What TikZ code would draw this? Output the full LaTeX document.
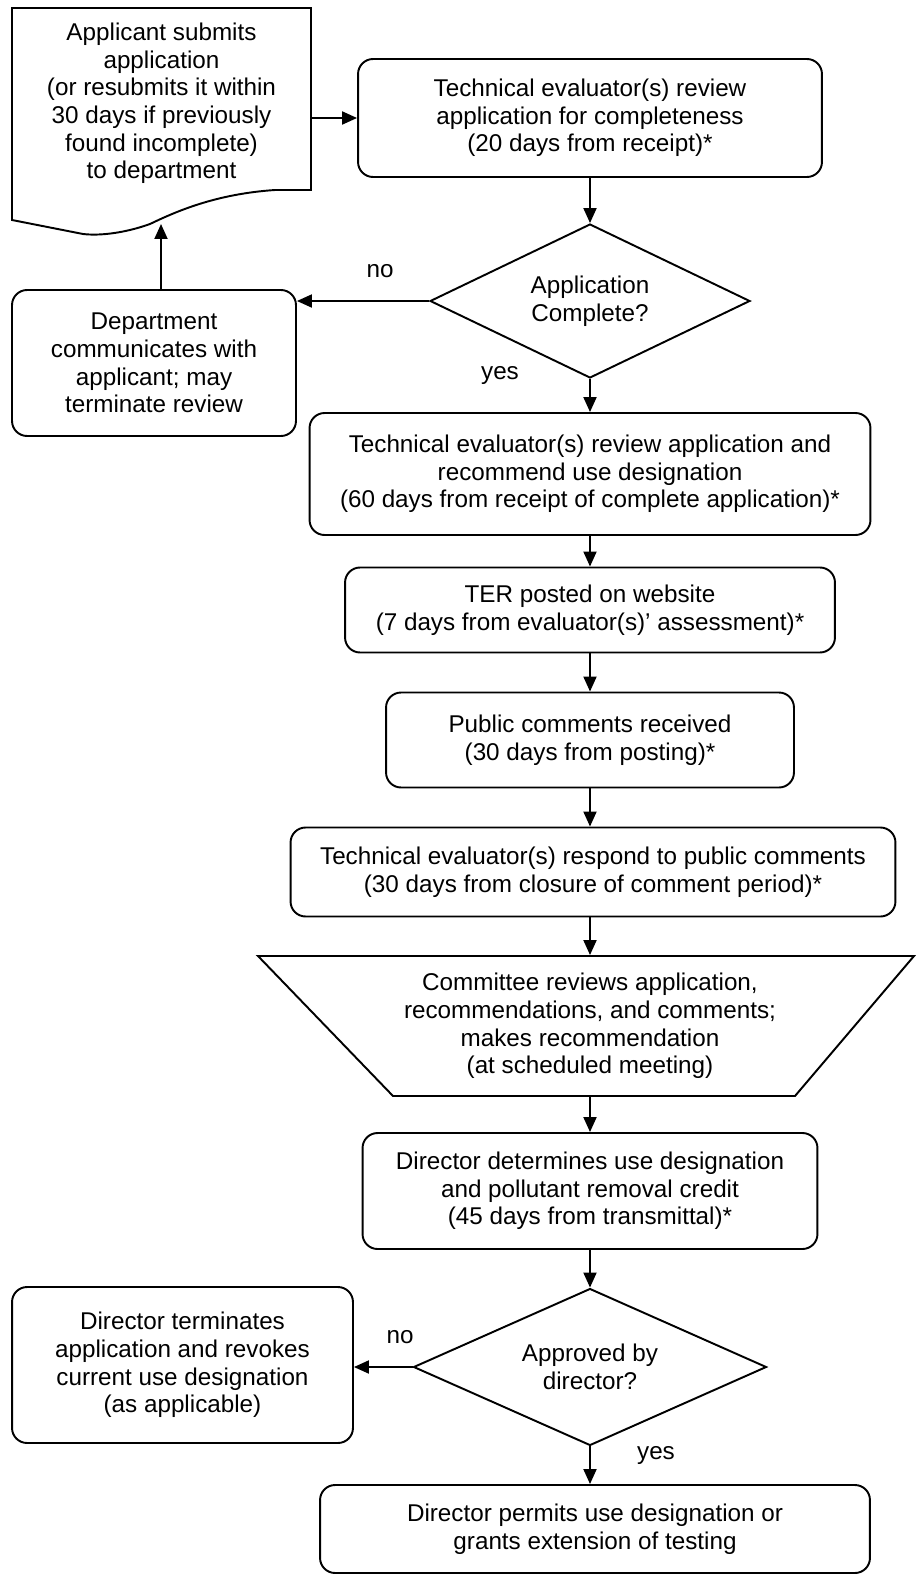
\documentclass[tikz,border=0pt]{standalone}
\usepackage{fontspec}
\setmainfont{Liberation Sans}
\usetikzlibrary{shapes.geometric,arrows.meta}

\begin{document}
\begin{tikzpicture}[x=0.02cm, y=-0.02cm, line width=1.1pt,
    every node/.style = {font=\fontsize{13.8}{15.7}\selectfont, align=center, inner sep=0pt},
    box/.style = {shape=rectangle, rounded corners=0.3cm, draw},
    dia/.style = {shape=diamond, draw, aspect=2},
    arr/.style = {-{Triangle[length=0.3cm,width=0.26cm]}}]
    \useasboundingbox (0,0) rectangle (916,1575);

    % document shape at the top left
    \draw (12,8) -- (311,8) -- (311,190) -- (275,190)
      .. controls (215,194) and (175,212) .. (150,224)
      .. controls (125,233) and (100,236) .. (83,234) -- (12,220) -- cycle;
    \node (doc) at (161.5,103.5) {Applicant submits\\application\\(or resubmits it within\\30 days if previously\\found incomplete)\\to department};
    \coordinate (docright) at (311,118);
    \coordinate (docwave) at (161,224);

    \node[box, minimum width=9.28cm, minimum height=2.36cm] (review) at (590,118)
      {Technical evaluator(s) review\\application for completeness\\(20 days from receipt)*};
    \node[dia, minimum width=6.4cm, minimum height=3.08cm] (complete) at (590,301)
      {Application\\Complete?};
    \node[box, minimum width=5.68cm, minimum height=2.92cm] (dept) at (154,363)
      {Department\\communicates with\\applicant; may\\terminate review};
    \node[box, minimum width=11.22cm, minimum height=2.44cm] (recommend) at (590,474)
      {Technical evaluator(s) review application and\\recommend use designation\\(60 days from receipt of complete application)*};
    \node[box, minimum width=9.8cm, minimum height=1.7cm] (ter) at (590,610)
      {TER posted on website\\(7 days from evaluator(s)' assessment)*};
    \node[box, minimum width=8.16cm, minimum height=1.9cm] (public) at (590,740)
      {Public comments received\\(30 days from posting)*};
    \node[box, minimum width=12.1cm, minimum height=1.78cm] (respond) at (593,872)
      {Technical evaluator(s) respond to public comments\\(30 days from closure of comment period)*};

    % committee trapezoid
    \draw (258,956) -- (914,956) -- (795,1096) -- (393,1096) -- cycle;
    \node[minimum height=2.8cm] (cmte) at (590,1026)
      {Committee reviews application,\\recommendations, and comments;\\makes recommendation\\(at scheduled meeting)};

    \node[box, minimum width=9.1cm, minimum height=2.32cm] (determine) at (590,1191)
      {Director determines use designation\\and pollutant removal credit\\(45 days from transmittal)*};
    \node[dia, minimum width=7.06cm, minimum height=3.14cm] (approved) at (590,1367)
      {Approved by\\director?};
    \node[box, minimum width=6.82cm, minimum height=3.12cm] (terminate) at (182.5,1365)
      {Director terminates\\application and revokes\\current use designation\\(as applicable)};
    \node[box, minimum width=11cm, minimum height=1.76cm] (permit) at (595,1529)
      {Director permits use designation or\\grants extension of testing};

    \node (no1) at (380,271) {no};
    \node (yes1) at (500,375) {yes};
    \node (no2) at (400,1337) {no};
    \node (yes2) at (656,1455) {yes};

    \draw[arr] (docright) -- (review.west);
    \draw[arr] (review.south) -- (complete.north);
    \draw[arr] (complete.west) -- (complete.west -| dept.east);
    \draw[arr] (dept.north -| docwave) -- (docwave);
    \draw[arr] (complete.south) -- (recommend.north);
    \draw[arr] (recommend.south) -- (ter.north);
    \draw[arr] (ter.south) -- (public.north);
    \draw[arr] (public.south) -- (public.south |- respond.north);
    \draw[arr] (respond.south -| cmte) -- (cmte.north);
    \draw[arr] (cmte.south) -- (determine.north);
    \draw[arr] (determine.south) -- (approved.north);
    \draw[arr] (approved.west) -- (approved.west -| terminate.east);
    \draw[arr] (approved.south) -- (approved.south |- permit.north);
\end{tikzpicture}
\end{document}
